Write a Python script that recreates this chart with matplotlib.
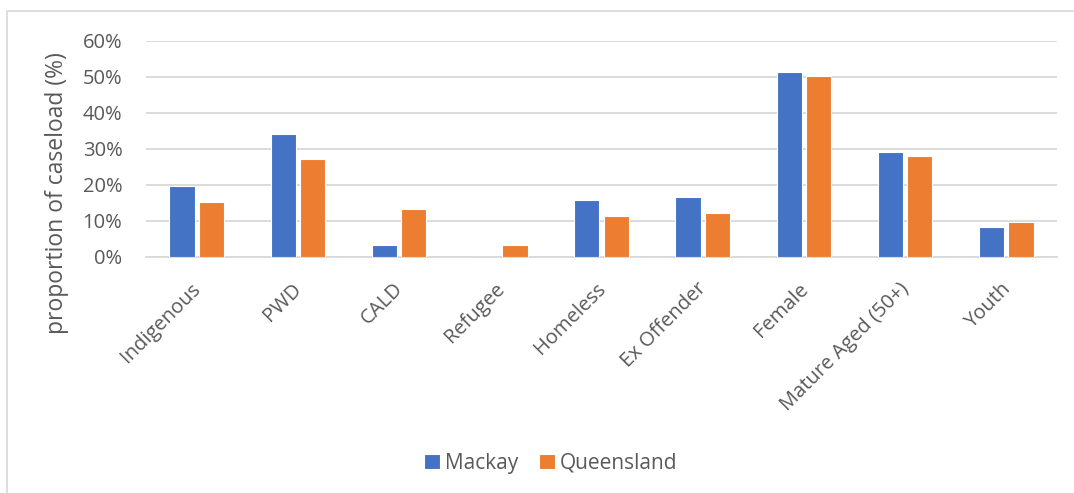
import matplotlib
matplotlib.use("Agg")
import matplotlib.pyplot as plt
from matplotlib.patches import Rectangle
from matplotlib.ticker import PercentFormatter
from matplotlib.transforms import ScaledTranslation
import numpy as np

categories = ["Indigenous", "PWD", "CALD", "Refugee", "Homeless", "Ex Offender",
              "Female", "Mature Aged (50+)", "Youth"]
mackay = [19.7, 34.2, 3.2, 0.0, 15.7, 16.6, 51.3, 29.1, 8.3]
queensland = [15.3, 27.1, 13.2, 3.2, 11.4, 12.2, 50.3, 28.1, 9.6]
series_names = ["Mackay", "Queensland"]
colors = ["#4472C4", "#ED7D31"]
text_color = "#595959"

plt.rcParams['font.family'] = ['Open Sans', 'DejaVu Sans']

fig = plt.figure(figsize=(10.74, 4.93), dpi=100)
ax = fig.add_axes([146/1074, 1 - 256.7/493, (1057 - 146)/1074, (256.7 - 41)/493])

x = np.arange(len(categories))
w = 0.25
off = 0.145
ax.bar(x - off, mackay, width=w, color=colors[0], edgecolor="white", linewidth=0.8,
       label=series_names[0], zorder=3)
ax.bar(x + off, queensland, width=w, color=colors[1], edgecolor="white", linewidth=0.8,
       label=series_names[1], zorder=3)

ax.set_xlim(-0.5, len(categories) - 0.5)
ax.set_ylim(0, 60)
ax.set_yticks(np.arange(0, 61, 10))
ax.yaxis.set_major_formatter(PercentFormatter(decimals=0))
ax.grid(axis="y", color="#D9D9D9", linewidth=1.3, zorder=0)
for s in ["top", "right", "left"]:
    ax.spines[s].set_visible(False)
ax.spines["bottom"].set_color("#D9D9D9")
ax.spines["bottom"].set_linewidth(1.3)
ax.tick_params(axis="both", length=0, colors=text_color, labelsize=14.5)
ax.tick_params(axis="y", pad=17)
ax.set_xticks(x)
ax.set_xticklabels(categories, rotation=45, ha="right", rotation_mode="anchor")
ax.tick_params(axis="x", pad=16)
shift = ScaledTranslation(-6/100, 0, fig.dpi_scale_trans)
for lab in ax.get_xticklabels():
    lab.set_transform(lab.get_transform() + shift)
ax.set_ylabel("proportion of caseload (%)", fontsize=16.5, color=text_color)
ax.yaxis.set_label_coords(-(146 - 57) / 911, (256.7 - 193) / 215.7)
ax.yaxis.label.set_va("center")

leg = fig.legend(loc="center", bbox_to_anchor=(551/1074, 1 - 463/493), ncol=2,
                 frameon=False, fontsize=15, handlelength=0.75, handleheight=0.75,
                 columnspacing=1.0, handletextpad=0.25)
for t in leg.get_texts():
    t.set_color(text_color)

fig.patches.append(Rectangle((7/1074, -0.05), 1.2, 1 - 11/493 + 0.05,
                             transform=fig.transFigure, fill=False,
                             edgecolor="#D9D9D9", linewidth=1.2))

fig.savefig("out.png", dpi=100, facecolor="white")
